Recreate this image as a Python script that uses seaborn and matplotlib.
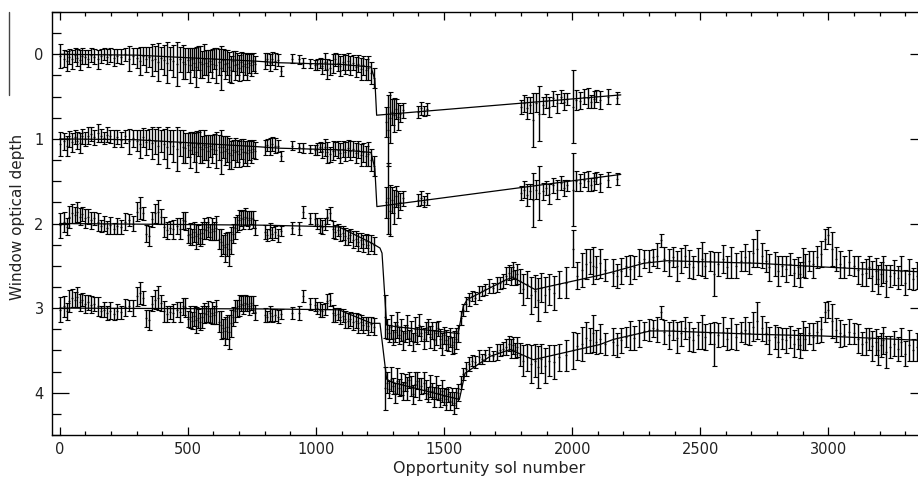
import numpy as np
import pandas as pd
import seaborn as sns
import matplotlib.pyplot as plt
from matplotlib.ticker import MultipleLocator
from matplotlib.lines import Line2D

# Sols observed before the 2007 dust storm (shared by all four windows)
sol_early = [2, 18, 28, 38, 48, 58, 68, 78, 88, 98,
             110, 122, 135, 148, 160, 172, 185, 198, 212, 225,
             240, 255, 270, 285, 300, 312, 324, 336, 348, 360,
             372, 384, 396, 408, 420, 432, 444, 456, 468, 480,
             490, 500, 508, 516, 524, 532, 540, 548, 556, 564,
             572, 580, 588, 596, 604, 612, 620, 628, 636, 644,
             652, 660, 668, 676, 684, 692, 700, 708, 716, 724,
             732, 740, 748, 756, 764, 800, 810, 820, 830, 840,
             852, 865, 905, 935, 950, 975, 995, 1005, 1015, 1025,
             1035, 1045, 1055, 1065, 1075, 1085, 1095, 1105, 1115, 1125,
             1135, 1145, 1155, 1165, 1175, 1185, 1195, 1205, 1215, 1225]

tau_a_early = [0.02, 0.05, 0.08, 0.03, 0.06, 0.01, 0.04, 0.07, 0.02, 0.03,
               0.05, 0.01, 0.03, 0.06, 0.02, 0.00, 0.03, 0.01, 0.04, 0.02,
               0.03, 0.00, 0.05, 0.02, 0.04, 0.08, 0.02, 0.06, 0.03, 0.07,
               0.05, 0.09, 0.04, 0.07, 0.10, 0.05, 0.08, 0.12, 0.06, 0.09,
               0.11, 0.07, 0.13, 0.05, 0.10, 0.15, 0.04, 0.09, 0.12, 0.06,
               0.10, 0.14, 0.08, 0.11, 0.05, 0.13, 0.09, 0.16, 0.07, 0.12,
               0.10, 0.15, 0.18, 0.08, 0.13, 0.11, 0.16, 0.09, 0.14, 0.12,
               0.15, 0.10, 0.13, 0.09, 0.12, 0.08, 0.06, 0.10, 0.05, 0.08,
               0.07, 0.20, 0.05, 0.06, 0.10, 0.11, 0.13, 0.12, 0.10, 0.14,
               0.09, 0.17, 0.16, 0.11, 0.06, 0.10, 0.14, 0.09, 0.12, 0.08,
               0.13, 0.10, 0.15, 0.11, 0.17, 0.13, 0.18, 0.16, 0.22, 0.28]

tau_b_early = [1.06, 1.03, 1.08, 1.00, 1.04, 0.98, 1.02, 1.05, 0.97, 1.00,
               0.96, 0.94, 0.98, 0.93, 0.96, 0.99, 0.95, 0.97, 1.00, 0.98,
               1.01, 0.97, 1.03, 0.99, 1.02, 1.06, 0.98, 1.04, 1.00, 1.05,
               1.03, 1.08, 1.02, 1.06, 1.10, 1.04, 1.08, 1.12, 1.05, 1.09,
               1.11, 1.07, 1.13, 1.05, 1.10, 1.15, 1.06, 1.09, 1.12, 1.07,
               1.10, 1.14, 1.08, 1.12, 1.06, 1.13, 1.10, 1.16, 1.09, 1.14,
               1.12, 1.17, 1.19, 1.13, 1.16, 1.14, 1.18, 1.12, 1.16, 1.15,
               1.17, 1.13, 1.15, 1.12, 1.14, 1.10, 1.07, 1.09, 1.06, 1.08,
               1.08, 1.20, 1.08, 1.10, 1.11, 1.12, 1.13, 1.12, 1.10, 1.14,
               1.10, 1.16, 1.18, 1.14, 1.12, 1.13, 1.17, 1.12, 1.15, 1.11,
               1.14, 1.12, 1.17, 1.13, 1.19, 1.16, 1.20, 1.18, 1.25, 1.32]

tau_c_early = [2.02, 1.98, 2.04, 1.92, 1.88, 1.90, 1.86, 1.92, 1.89, 1.94,
               1.92, 1.96, 1.94, 1.98, 2.03, 2.00, 2.05, 2.02, 2.06, 2.03,
               2.04, 1.98, 1.96, 2.00, 1.86, 1.82, 1.88, 2.12, 2.15, 1.95,
               1.88, 1.86, 1.92, 2.04, 2.08, 2.05, 2.07, 2.03, 2.06, 1.96,
               1.97, 2.14, 2.12, 2.16, 2.10, 2.15, 2.13, 2.17, 2.11, 2.06,
               2.08, 2.04, 2.10, 2.06, 2.09, 2.05, 2.18, 2.22, 2.25, 2.28,
               2.24, 2.30, 2.20, 2.12, 2.05, 2.00, 1.96, 1.94, 1.95, 1.92,
               1.94, 1.96, 1.93, 1.95, 2.05, 2.10, 2.14, 2.08, 2.12, 2.10,
               2.14, 2.09, 2.05, 2.06, 1.86, 1.94, 1.95, 2.00, 2.02, 2.04,
               2.01, 1.92, 1.88, 2.07, 2.10, 2.08, 2.12, 2.11, 2.15, 2.17,
               2.14, 2.19, 2.18, 2.22, 2.20, 2.24, 2.21, 2.25, 2.23, 2.26]

tau_d_early = [3.02, 2.98, 3.04, 2.92, 2.88, 2.90, 2.87, 2.93, 2.90, 2.95,
               2.93, 2.96, 2.95, 2.98, 3.04, 3.02, 3.06, 3.03, 3.07, 3.04,
               3.05, 2.99, 2.97, 3.00, 2.86, 2.82, 2.88, 3.12, 3.14, 2.95,
               2.90, 2.88, 2.94, 3.04, 3.07, 3.05, 3.06, 3.02, 3.05, 2.98,
               2.99, 3.13, 3.11, 3.15, 3.09, 3.14, 3.12, 3.16, 3.10, 3.06,
               3.07, 3.04, 3.09, 3.06, 3.08, 3.05, 3.16, 3.20, 3.24, 3.27,
               3.22, 3.28, 3.18, 3.10, 3.04, 3.00, 2.97, 2.95, 2.96, 2.94,
               2.95, 2.97, 2.94, 2.96, 3.05, 3.08, 3.10, 3.06, 3.09, 3.08,
               3.10, 3.07, 3.06, 3.06, 2.86, 2.95, 2.96, 3.00, 3.02, 3.03,
               3.01, 2.92, 2.90, 3.06, 3.08, 3.07, 3.10, 3.09, 3.13, 3.15,
               3.13, 3.16, 3.15, 3.18, 3.17, 3.20, 3.18, 3.21, 3.19, 3.22]

err_ab_early = [0.14, 0.10, 0.12, 0.09, 0.11, 0.08, 0.10, 0.12, 0.09, 0.08,
                0.10, 0.08, 0.09, 0.11, 0.08, 0.07, 0.09, 0.08, 0.10, 0.08,
                0.09, 0.08, 0.15, 0.10, 0.12, 0.17, 0.11, 0.15, 0.12, 0.19,
                0.15, 0.22, 0.13, 0.18, 0.24, 0.14, 0.19, 0.26, 0.15, 0.20,
                0.18, 0.14, 0.21, 0.13, 0.17, 0.24, 0.14, 0.19, 0.16, 0.18,
                0.15, 0.19, 0.13, 0.17, 0.12, 0.21, 0.15, 0.26, 0.13, 0.17,
                0.15, 0.18, 0.16, 0.12, 0.17, 0.13, 0.15, 0.12, 0.16, 0.13,
                0.15, 0.12, 0.13, 0.11, 0.10, 0.09, 0.07, 0.10, 0.08, 0.09,
                0.07, 0.06, 0.05, 0.05, 0.06, 0.05, 0.06, 0.07, 0.06, 0.09,
                0.10, 0.12, 0.09, 0.11, 0.08, 0.10, 0.12, 0.09, 0.11, 0.10,
                0.11, 0.09, 0.12, 0.10, 0.13, 0.11, 0.12, 0.14, 0.13, 0.12]

err_cd_early = [0.15, 0.12, 0.10, 0.13, 0.11, 0.09, 0.12, 0.10, 0.08, 0.11,
                0.09, 0.10, 0.08, 0.11, 0.07, 0.09, 0.08, 0.10, 0.07, 0.09,
                0.08, 0.10, 0.07, 0.09, 0.11, 0.13, 0.08, 0.10, 0.12, 0.09,
                0.11, 0.14, 0.09, 0.12, 0.10, 0.08, 0.11, 0.09, 0.12, 0.10,
                0.11, 0.09, 0.13, 0.10, 0.12, 0.15, 0.11, 0.10, 0.13, 0.12,
                0.10, 0.12, 0.09, 0.13, 0.11, 0.14, 0.12, 0.16, 0.11, 0.17,
                0.14, 0.20, 0.16, 0.11, 0.13, 0.10, 0.12, 0.09, 0.11, 0.10,
                0.09, 0.11, 0.08, 0.10, 0.09, 0.08, 0.07, 0.09, 0.08, 0.07,
                0.08, 0.06, 0.07, 0.08, 0.07, 0.07, 0.08, 0.07, 0.09, 0.08,
                0.07, 0.09, 0.08, 0.10, 0.08, 0.07, 0.09, 0.08, 0.10, 0.09,
                0.08, 0.10, 0.09, 0.11, 0.09, 0.10, 0.08, 0.11, 0.09, 0.10]

# Windows 1 and 2 after the storm (sparse coverage)
sol_ab_late = [1272, 1280, 1288, 1296, 1305, 1313, 1322, 1330, 1340, 1400,
               1410, 1420, 1432, 1800, 1812, 1822, 1835, 1848, 1860, 1872,
               1885, 1898, 1910, 1925, 1940, 1955, 1968, 1980, 2004, 2015,
               2030, 2048, 2062, 2075, 2085, 2095, 2110, 2140, 2175]
tau_a_late = [0.80, 0.90, 0.75, 0.68, 0.72, 0.65, 0.74, 0.70, 0.66, 0.68,
              0.64, 0.67, 0.65, 0.62, 0.58, 0.64, 0.60, 0.78, 0.57, 0.70,
              0.60, 0.55, 0.62, 0.52, 0.58, 0.50, 0.56, 0.53, 0.62, 0.54,
              0.55, 0.50, 0.52, 0.56, 0.53, 0.49, 0.54, 0.50, 0.52]
tau_b_late = [1.75, 1.70, 1.85, 1.72, 1.80, 1.68, 1.78, 1.74, 1.70, 1.72,
              1.70, 1.74, 1.71, 1.64, 1.60, 1.66, 1.62, 1.72, 1.60, 1.64,
              1.62, 1.58, 1.65, 1.55, 1.60, 1.52, 1.58, 1.55, 1.60, 1.50,
              1.52, 1.48, 1.50, 1.54, 1.50, 1.46, 1.52, 1.48, 1.47]
err_ab_late = [0.18, 0.42, 0.30, 0.15, 0.20, 0.12, 0.16, 0.10, 0.09, 0.07,
               0.08, 0.06, 0.07, 0.08, 0.10, 0.13, 0.09, 0.32, 0.11, 0.32,
               0.10, 0.08, 0.12, 0.09, 0.11, 0.08, 0.10, 0.07, 0.43, 0.12,
               0.10, 0.09, 0.12, 0.08, 0.10, 0.07, 0.11, 0.09, 0.07]

# Windows 3 and 4 after the storm
sol_cd_late = [1268, 1276, 1284, 1292, 1300, 1308, 1316, 1324, 1332, 1340,
               1348, 1356, 1364, 1372, 1380, 1388, 1396, 1404, 1412, 1420,
               1428, 1436, 1444, 1452, 1460, 1468, 1476, 1484, 1492, 1500,
               1508, 1516, 1524, 1532, 1540, 1548, 1556, 1565, 1575, 1585,
               1598, 1610, 1622, 1635, 1648, 1660, 1675, 1690, 1705, 1718,
               1730, 1742, 1752, 1760, 1768, 1776, 1784, 1795, 1810, 1825,
               1840, 1855, 1868, 1880, 1895, 1910, 1930, 1950, 1975, 2002,
               2020, 2040, 2055, 2068, 2080, 2092, 2110, 2130, 2160, 2175,
               2190, 2210, 2225, 2240, 2260, 2280, 2300, 2315, 2330, 2345,
               2360, 2380, 2395, 2410, 2425, 2440, 2455, 2470, 2490, 2505,
               2520, 2540, 2555, 2570, 2590, 2605, 2620, 2640, 2660, 2675,
               2690, 2705, 2720, 2740, 2755, 2770, 2790, 2805, 2820, 2835,
               2850, 2865, 2880, 2890, 2900, 2910, 2925, 2940, 2955, 2970,
               2985, 3000, 3015, 3030, 3045, 3060, 3080, 3100, 3115, 3130,
               3145, 3160, 3172, 3185, 3195, 3205, 3215, 3225, 3240, 3255,
               3270, 3285, 3300, 3315, 3330, 3345]
tau_c_late = [3.10, 3.25, 3.30, 3.22, 3.35, 3.28, 3.20, 3.32, 3.26, 3.38,
              3.30, 3.22, 3.35, 3.27, 3.40, 3.25, 3.32, 3.20, 3.30, 3.36,
              3.28, 3.22, 3.34, 3.26, 3.38, 3.30, 3.24, 3.36, 3.42, 3.32,
              3.38, 3.42, 3.35, 3.44, 3.40, 3.36, 3.30, 3.12, 3.02, 2.95,
              2.90, 2.86, 2.88, 2.82, 2.80, 2.78, 2.74, 2.76, 2.72, 2.70,
              2.68, 2.62, 2.58, 2.62, 2.56, 2.64, 2.60, 2.68, 2.78, 2.72,
              2.85, 2.80, 2.90, 2.76, 2.84, 2.78, 2.82, 2.72, 2.70, 2.30,
              2.62, 2.55, 2.48, 2.45, 2.50, 2.52, 2.47, 2.55, 2.58, 2.62,
              2.56, 2.50, 2.54, 2.52, 2.46, 2.42, 2.44, 2.40, 2.38, 2.20,
              2.42, 2.46, 2.40, 2.50, 2.44, 2.38, 2.48, 2.52, 2.45, 2.42,
              2.50, 2.44, 2.60, 2.48, 2.42, 2.52, 2.46, 2.50, 2.44, 2.40,
              2.46, 2.35, 2.30, 2.38, 2.44, 2.52, 2.48, 2.56, 2.50, 2.54,
              2.48, 2.58, 2.52, 2.60, 2.46, 2.50, 2.44, 2.48, 2.40, 2.36,
              2.18, 2.14, 2.30, 2.42, 2.48, 2.52, 2.46, 2.50, 2.55, 2.60,
              2.58, 2.52, 2.62, 2.56, 2.66, 2.60, 2.54, 2.68, 2.62, 2.58,
              2.64, 2.56, 2.70, 2.60, 2.66, 2.62]
tau_d_late = [3.95, 3.88, 3.96, 3.84, 3.92, 4.00, 3.86, 3.94, 3.90, 3.98,
              3.88, 3.95, 3.85, 3.92, 4.02, 3.90, 3.86, 3.96, 3.92, 3.88,
              3.96, 4.02, 3.92, 3.98, 4.05, 3.94, 4.00, 4.06, 3.98, 4.04,
              4.08, 4.02, 4.10, 4.05, 4.12, 4.06, 4.00, 3.88, 3.78, 3.72,
              3.66, 3.62, 3.64, 3.58, 3.60, 3.56, 3.54, 3.57, 3.52, 3.50,
              3.48, 3.46, 3.42, 3.48, 3.44, 3.50, 3.46, 3.55, 3.62, 3.58,
              3.66, 3.62, 3.70, 3.60, 3.68, 3.62, 3.64, 3.58, 3.56, 3.50,
              3.45, 3.42, 3.35, 3.38, 3.30, 3.40, 3.36, 3.42, 3.40, 3.44,
              3.38, 3.34, 3.32, 3.35, 3.30, 3.27, 3.26, 3.24, 3.25, 3.05,
              3.28, 3.32, 3.26, 3.35, 3.30, 3.24, 3.34, 3.38, 3.32, 3.28,
              3.34, 3.30, 3.42, 3.32, 3.28, 3.36, 3.30, 3.34, 3.28, 3.26,
              3.30, 3.22, 3.15, 3.24, 3.30, 3.38, 3.34, 3.40, 3.36, 3.38,
              3.34, 3.42, 3.36, 3.44, 3.32, 3.36, 3.30, 3.34, 3.28, 3.25,
              3.05, 3.02, 3.15, 3.26, 3.30, 3.32, 3.28, 3.30, 3.36, 3.42,
              3.40, 3.36, 3.45, 3.40, 3.50, 3.44, 3.38, 3.52, 3.46, 3.42,
              3.48, 3.40, 3.54, 3.44, 3.50, 3.46]
err_cd_late = [0.25, 0.12, 0.10, 0.14, 0.09, 0.12, 0.15, 0.10, 0.13, 0.11,
               0.10, 0.14, 0.09, 0.12, 0.11, 0.15, 0.10, 0.13, 0.09, 0.12,
               0.11, 0.09, 0.13, 0.10, 0.12, 0.14, 0.09, 0.11, 0.13, 0.10,
               0.12, 0.09, 0.11, 0.10, 0.13, 0.12, 0.10, 0.08, 0.07, 0.08,
               0.08, 0.06, 0.07, 0.08, 0.06, 0.07, 0.08, 0.06, 0.09, 0.07,
               0.08, 0.10, 0.09, 0.11, 0.10, 0.09, 0.12, 0.14, 0.18, 0.16,
               0.22, 0.19, 0.25, 0.17, 0.21, 0.18, 0.20, 0.16, 0.18, 0.22,
               0.16, 0.20, 0.18, 0.15, 0.22, 0.14, 0.17, 0.13, 0.16, 0.14,
               0.15, 0.12, 0.17, 0.14, 0.16, 0.11, 0.13, 0.10, 0.15, 0.08,
               0.14, 0.16, 0.12, 0.18, 0.15, 0.13, 0.17, 0.14, 0.16, 0.20,
               0.15, 0.12, 0.26, 0.14, 0.17, 0.13, 0.18, 0.15, 0.12, 0.16,
               0.14, 0.17, 0.22, 0.15, 0.13, 0.16, 0.14, 0.18, 0.12, 0.15,
               0.13, 0.16, 0.12, 0.15, 0.17, 0.14, 0.12, 0.16, 0.13, 0.15,
               0.12, 0.10, 0.20, 0.14, 0.16, 0.13, 0.15, 0.12, 0.17, 0.14,
               0.16, 0.13, 0.18, 0.15, 0.17, 0.14, 0.16, 0.19, 0.13, 0.15,
               0.14, 0.17, 0.15, 0.18, 0.13, 0.16]

# Model fits drawn through each window's series
fit_a_sol = [0, 300, 760, 860, 1100, 1215, 1230, 1237, 2190]
fit_a_tau = [0.00, 0.01, 0.08, 0.10, 0.12, 0.15, 0.30, 0.72, 0.48]
fit_b_sol = [0, 300, 760, 860, 1100, 1215, 1230, 1238, 2190]
fit_b_tau = [1.00, 1.01, 1.09, 1.11, 1.13, 1.16, 1.35, 1.80, 1.42]
fit_c_sol = [0, 800, 1090, 1217, 1250, 1258, 1276, 1312, 1555, 1575, 1590,
             1680, 1745, 1770, 1855, 2109, 2161, 2279, 2370, 2722, 2956, 3350]
fit_c_tau = [2.00, 2.02, 2.04, 2.23, 2.29, 2.35, 3.20, 3.22, 3.30, 2.98, 2.90,
             2.76, 2.66, 2.64, 2.78, 2.61, 2.57, 2.47, 2.44, 2.47, 2.51, 2.57]
fit_d_sol = [0, 800, 1090, 1217, 1250, 1276, 1300, 1560, 1582, 1680, 1758,
             1849, 2109, 2161, 2305, 2370, 2722, 2981, 3350]
fit_d_tau = [3.00, 3.01, 3.02, 3.18, 3.18, 3.84, 3.88, 4.08, 3.77, 3.57, 3.49,
             3.61, 3.43, 3.37, 3.27, 3.27, 3.31, 3.33, 3.38]

sns.set_style('ticks')
plt.rcParams['font.family'] = ['DejaVu Sans']

obs = pd.concat([
    pd.DataFrame({'sol': sol_early, 'tau': tau_a_early, 'err': err_ab_early}),
    pd.DataFrame({'sol': sol_early, 'tau': tau_b_early, 'err': err_ab_early}),
    pd.DataFrame({'sol': sol_early, 'tau': tau_c_early, 'err': err_cd_early}),
    pd.DataFrame({'sol': sol_early, 'tau': tau_d_early, 'err': err_cd_early}),
    pd.DataFrame({'sol': sol_ab_late, 'tau': tau_a_late, 'err': err_ab_late}),
    pd.DataFrame({'sol': sol_ab_late, 'tau': tau_b_late, 'err': err_ab_late}),
    pd.DataFrame({'sol': sol_cd_late, 'tau': tau_c_late, 'err': err_cd_late}),
    pd.DataFrame({'sol': sol_cd_late, 'tau': tau_d_late, 'err': err_cd_late}),
], ignore_index=True)

fig = plt.figure(figsize=(9.18, 4.82), dpi=100)
ax = fig.add_axes([52 / 918, 47 / 482, 875 / 918, 423 / 482])

ax.errorbar(obs['sol'], obs['tau'], yerr=obs['err'], fmt='none',
            ecolor='black', elinewidth=1.0, capsize=1.8, capthick=0.8)
sns.scatterplot(data=obs, x='sol', y='tau', s=2, color='black',
                linewidth=0, ax=ax, legend=False)

for fs, ft in [(fit_a_sol, fit_a_tau), (fit_b_sol, fit_b_tau),
               (fit_c_sol, fit_c_tau), (fit_d_sol, fit_d_tau)]:
    sns.lineplot(x=fs, y=ft, sort=False, estimator=None, color='black',
                 linewidth=0.9, ax=ax)

ax.set_xlim(-30, 3385)
ax.set_ylim(4.5, -0.5)
ax.set_xticks([0, 500, 1000, 1500, 2000, 2500, 3000])
ax.xaxis.set_minor_locator(MultipleLocator(100))
ax.set_yticks([0, 1, 2, 3, 4])
ax.yaxis.set_minor_locator(MultipleLocator(0.25))
ax.tick_params(which='both', direction='in', top=True, right=True,
               width=0.9, color='black', labelsize=10.5, labelcolor='#222222')
ax.tick_params(axis='x', which='major', length=6, pad=5)
ax.tick_params(axis='x', which='minor', length=3.2)
ax.tick_params(axis='y', which='major', length=12, pad=6)
ax.tick_params(axis='y', which='minor', length=6.5)
for sp in ax.spines.values():
    sp.set_linewidth(1.0)
    sp.set_color('black')

ax.set_xlabel('Opportunity sol number', fontsize=11.5, color='#222222', labelpad=3)
ax.set_ylabel('Window optical depth', fontsize=11, color='#222222')
ax.yaxis.set_label_coords(-0.031, 0.515)

# stray frame line at the far left of the scanned figure
fig.add_artist(Line2D([9 / 918, 9 / 918], [1 - 12 / 482, 1 - 95 / 482],
                      color='#444444', linewidth=1.0))

fig.savefig('out.png', dpi=100)
